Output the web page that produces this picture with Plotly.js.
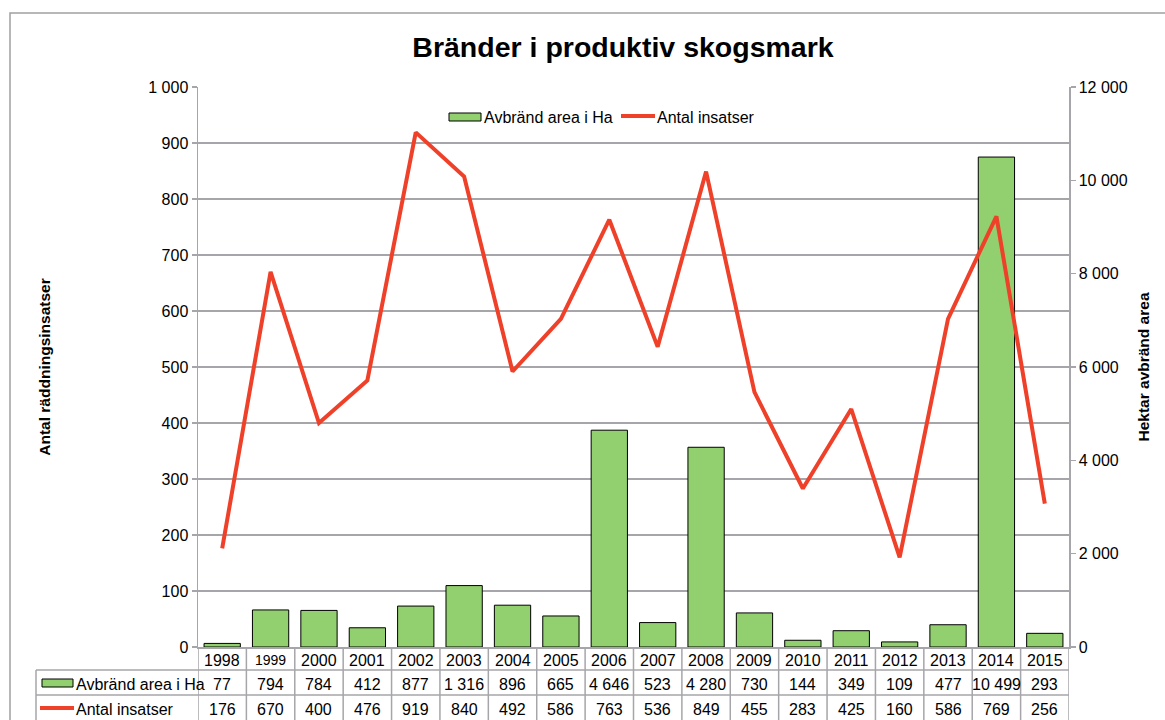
<!DOCTYPE html>
<html>
<head>
<meta charset="utf-8">
<script src="https://cdn.plot.ly/plotly-3.0.1.min.js"></script>
<style>html,body{margin:0;padding:0;background:#fff}#chart{width:1165px;height:720px}</style>
</head>
<body>
<div id="chart"></div>
<script>
const years = ['1998','1999','2000','2001','2002','2003','2004','2005','2006','2007','2008','2009','2010','2011','2012','2013','2014','2015'];
const area = [77,794,784,412,877,1316,896,665,4646,523,4280,730,144,349,109,477,10499,293];
const insatser = [176,670,400,476,919,840,492,586,763,536,849,455,283,425,160,586,769,256];
const areaName = 'Avbränd area i Ha';
const lineName = 'Antal insatser';
const chartTitle = 'Bränder i produktiv skogsmark';
const leftTitle = 'Antal räddningsinsatser';
const rightTitle = 'Hektar avbränd area';

const W = 1165, H = 720, L = 198, R = 96, T = 87, B = 73;
const PW = W - L - R, PH = H - T - B;
const px = v => (v - L) / PW;
const py = v => (H - B - v) / PH;
const fmt = n => String(n).replace(/\B(?=(\d{3})+(?!\d))/g, ' ');

const GREEN = '#92d06f', RED = '#ef4129', GRID = '#a6a6aa', FONT = 'Liberation Sans, Arial, sans-serif';

const traces = [
  {type:'bar', x:years, y:area, name:areaName, yaxis:'y', xaxis:'x',
   marker:{color:GREEN, line:{color:'#000', width:1}}, width:0.75, showlegend:false},
  {type:'scatter', mode:'lines', x:years, y:insatser, name:lineName, yaxis:'y2', xaxis:'x',
   line:{color:RED, width:4}, showlegend:false}
];

const shapes = [];
const annotations = [];
// outer border
shapes.push({type:'rect', xref:'paper', yref:'paper', x0:px(10), x1:px(1180), y0:py(13), y1:py(740), line:{color:'#a0a0a4', width:1.5}, fillcolor:'rgba(0,0,0,0)', layer:'below'});

// data table grid
const rowTop = py(647), r1 = py(670), r2 = py(695), rBot = py(721);
for (let i = 0; i <= years.length; i++) {
  shapes.push({type:'line', xref:'x', yref:'paper', x0:i-0.5, x1:i-0.5, y0:rowTop, y1:rBot, line:{color:GRID, width:1.5}});
}
shapes.push({type:'line', xref:'paper', yref:'paper', x0:px(36), x1:px(36), y0:r1, y1:rBot, line:{color:GRID, width:1.5}});
shapes.push({type:'line', xref:'paper', yref:'paper', x0:px(36), x1:1, y0:r1, y1:r1, line:{color:GRID, width:1.5}});
shapes.push({type:'line', xref:'paper', yref:'paper', x0:px(36), x1:1, y0:r2, y1:r2, line:{color:GRID, width:1.5}});

const FS = 16;
const cellFont = {family:FONT, size:FS, color:'#000'};
years.forEach((yr, i) => {
  annotations.push({xref:'x', yref:'paper', x:i, y:py(660), text:yr, showarrow:false, font:{family:FONT, size:(yr==='1999'?14:FS), color:'#000'}, yanchor:'middle'});
  annotations.push({xref:'x', yref:'paper', x:i, y:py(684), text:fmt(area[i]), showarrow:false, font:cellFont, yanchor:'middle'});
  annotations.push({xref:'x', yref:'paper', x:i, y:py(709), text:fmt(insatser[i]), showarrow:false, font:cellFont, yanchor:'middle'});
});
// table legend keys
shapes.push({type:'rect', xref:'paper', yref:'paper', x0:px(42), x1:px(73), y0:py(679), y1:py(687), fillcolor:GREEN, line:{color:'#000', width:1}});
shapes.push({type:'line', xref:'paper', yref:'paper', x0:px(40), x1:px(74), y0:py(708), y1:py(708), line:{color:RED, width:4}});
annotations.push({xref:'paper', yref:'paper', x:px(74), y:py(684), text:areaName, showarrow:false, xanchor:'left', yanchor:'middle', font:cellFont});
annotations.push({xref:'paper', yref:'paper', x:px(74), y:py(709), text:lineName, showarrow:false, xanchor:'left', yanchor:'middle', font:cellFont});

// top legend
shapes.push({type:'rect', xref:'paper', yref:'paper', x0:px(449), x1:px(481), y0:py(113), y1:py(121), fillcolor:GREEN, line:{color:'#000', width:1}});
shapes.push({type:'line', xref:'paper', yref:'paper', x0:px(621), x1:px(655), y0:py(116), y1:py(116), line:{color:RED, width:4}});
annotations.push({xref:'paper', yref:'paper', x:px(482), y:py(117), text:areaName, showarrow:false, xanchor:'left', yanchor:'middle', font:cellFont});
annotations.push({xref:'paper', yref:'paper', x:px(655), y:py(117), text:lineName, showarrow:false, xanchor:'left', yanchor:'middle', font:cellFont});

const layout = {
  width:W, height:H,
  margin:{l:L, r:R, t:T, b:B, pad:0},
  paper_bgcolor:'#fff', plot_bgcolor:'rgba(0,0,0,0)',
  separators:', ',
  font:{family:FONT, size:FS, color:'#000'},
  showlegend:false,
  title:{text:'<b>'+chartTitle+'</b>', x:623/W, xref:'container', xanchor:'center', y:1-47/H, yref:'container', yanchor:'middle', font:{family:FONT, size:28.5, color:'#000'}},
  xaxis:{type:'category', range:[-0.5, years.length-0.5], showticklabels:false, ticks:'', showgrid:false, zeroline:false, showline:true, linecolor:GRID, linewidth:1.5, fixedrange:true},
  yaxis:{side:'right', range:[0,12000], dtick:2000, tickformat:',d', showgrid:false, zeroline:false, showline:true, linecolor:GRID, linewidth:1.5, ticks:'outside', ticklen:5, tickcolor:GRID, tickwidth:1.5,
         tickfont:{family:FONT, size:FS, color:'#000'},
         title:{text:'<b>'+rightTitle+'</b>', font:{family:FONT, size:15.5, color:'#000'}, standoff:11}},
  yaxis2:{side:'left', overlaying:'y', range:[0,1000], dtick:100, tickformat:',d', showgrid:true, gridcolor:GRID, gridwidth:1.5, zeroline:false, showline:true, linecolor:GRID, linewidth:1.5, ticks:'outside', ticklen:5, tickcolor:GRID, tickwidth:1.5,
         tickfont:{family:FONT, size:FS, color:'#000'},
         title:{text:'<b>'+leftTitle+'</b>', font:{family:FONT, size:15.5, color:'#000'}, standoff:94}},
  shapes:shapes,
  annotations:annotations
};

Plotly.newPlot('chart', traces, layout, {displayModeBar:false, staticPlot:true});
</script>
</body>
</html>
